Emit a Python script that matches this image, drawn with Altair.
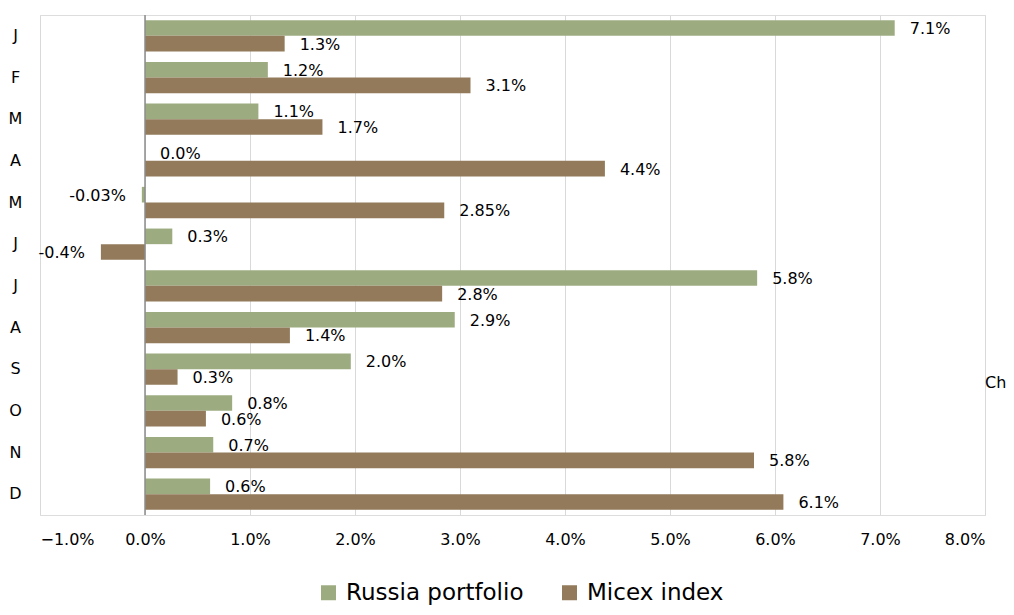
import altair as alt
import pandas as pd

months = ["J", "F", "M", "A", "M", "J", "J", "A", "S", "O", "N", "D"]
russia = [7.14, 1.17, 1.08, 0.0, -0.03, 0.26, 5.83, 2.95, 1.96, 0.83, 0.65, 0.62]
micex = [1.33, 3.10, 1.69, 4.38, 2.85, -0.42, 2.83, 1.38, 0.31, 0.58, 5.80, 6.08]
russia_labels = ["7.1%", "1.2%", "1.1%", "0.0%", "-0.03%", "0.3%", "5.8%", "2.9%", "2.0%", "0.8%", "0.7%", "0.6%"]
micex_labels = ["1.3%", "3.1%", "1.7%", "4.4%", "2.85%", "-0.4%", "2.8%", "1.4%", "0.3%", "0.6%", "5.8%", "6.1%"]
series_names = ["Russia portfolio", "Micex index"]
colors = ["#9CAC80", "#927A5B"]
x_ticks = [-1, 0, 1, 2, 3, 4, 5, 6, 7, 8]
annotation = ["Ch"]

rows = []
for i in range(len(months)):
    rows.append({"idx": i, "series": series_names[0], "value": russia[i], "label": russia_labels[i]})
    rows.append({"idx": i, "series": series_names[1], "value": micex[i], "label": micex_labels[i]})
df = pd.DataFrame(rows)

FONT = "DejaVu Sans"
month_expr = "[" + ",".join("'" + m + "'" for m in months) + "][datum.value]"

y_enc = alt.Y(
    "idx:O",
    scale=alt.Scale(paddingInner=0.25, paddingOuter=0.125),
    axis=alt.Axis(
        title=None, labelExpr=month_expr, labelAlign="center", labelPadding=25,
        ticks=False, domain=False, labelFontSize=16, labelFont=FONT, labelColor="#000000",
        grid=False,
    ),
)
yoff = alt.YOffset("series:N", sort=series_names,
                   scale=alt.Scale(domain=series_names, paddingInner=0, paddingOuter=0))
x_enc = alt.X(
    "value:Q",
    scale=alt.Scale(domain=[-1, 8], nice=False, zero=False),
    axis=alt.Axis(
        values=x_ticks, labelExpr="format(datum.value, '.1f') + '%'", grid=True,
        gridColor="#d9d9d9", gridWidth=1, domain=False, ticks=False, labelFontSize=16,
        labelFont=FONT, labelColor="#000000", labelPadding=16, title=None,
    ),
)

base = alt.Chart(df)

bars = base.mark_bar().encode(
    x=x_enc,
    y=y_enc,
    yOffset=yoff,
    color=alt.Color(
        "series:N",
        sort=series_names,
        scale=alt.Scale(domain=series_names, range=colors),
        legend=alt.Legend(
            orient="none", legendX=277, legendY=566, direction="horizontal", title=None,
            symbolType="square", symbolSize=225, labelFontSize=23, labelFont=FONT,
            labelColor="#000000", symbolStrokeWidth=0, columnPadding=34, labelOffset=6,
            labelLimit=0,
        ),
    ),
)

pos_text = base.transform_filter("datum.value >= 0").mark_text(
    align="left", baseline="middle", dx=15, dy=1, fontSize=16, font=FONT, color="#000000"
).encode(x="value:Q", y="idx:O", yOffset=yoff, text="label:N")

neg_text = base.transform_filter("datum.value < 0").mark_text(
    align="right", baseline="middle", dx=-16, dy=1, fontSize=16, font=FONT, color="#000000"
).encode(x="value:Q", y="idx:O", yOffset=yoff, text="label:N")

zero_rule = alt.Chart(pd.DataFrame({"x": [0]})).mark_rule(color="#8c8c8c", strokeWidth=1.5).encode(
    x="x:Q"
)

note = alt.Chart(pd.DataFrame({"t": annotation})).mark_text(
    align="left", baseline="middle", fontSize=16, font=FONT, color="#000000"
).encode(text="t:N", x=alt.value(945), y=alt.value(368))

chart = alt.layer(bars, zero_rule, pos_text, neg_text, note).properties(
    width=945,
    height=500,
    autosize=alt.AutoSizeParams(type="none"),
    padding={"left": 32, "top": 7, "right": 21, "bottom": 92},
).configure_view(stroke=None).configure(font=FONT)

chart.save("out.html", embed_options={"renderer": "svg", "actions": False})
